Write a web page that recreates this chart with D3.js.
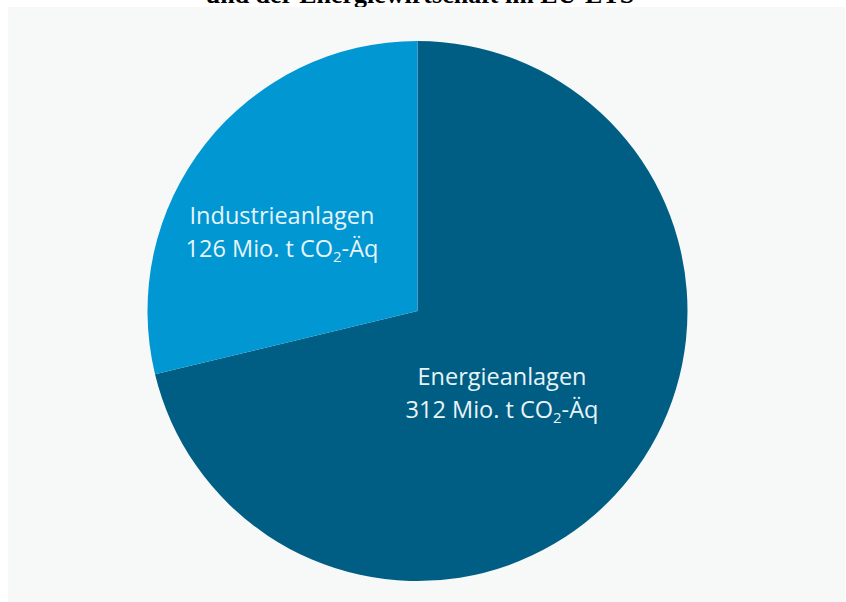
<!DOCTYPE html>
<html>
<head>
<meta charset="utf-8">
<script src="https://cdn.jsdelivr.net/npm/d3@7"></script>
<style>
  html, body { margin: 0; padding: 0; background: #ffffff; }
  svg { display: block; }
</style>
</head>
<body>
<div id="chart"></div>
<script>
// Emissions by sector in the EU ETS
const categories = ["Energieanlagen", "Industrieanlagen"];
const values = [312, 126];
const unitLabel = " Mio. t CO";
const colors = ["#005e84", "#0097d3"];

const W = 846, H = 602;
const cx = 417.5, cy = 311, R = 270;

const svg = d3.select("#chart").append("svg")
  .attr("width", W).attr("height", H);

// title (its upper part lies outside the top edge)
svg.append("text")
  .attr("x", 420).attr("y", 3)
  .attr("text-anchor", "middle")
  .attr("font-family", "'Liberation Serif', 'Times New Roman', serif")
  .attr("font-weight", "bold")
  .attr("font-size", 26)
  .attr("fill", "#000")
  .text("und der Energiewirtschaft im EU-ETS");

// panel background
svg.append("rect")
  .attr("x", 8).attr("y", 7).attr("width", W - 9).attr("height", H - 7)
  .attr("fill", "#f7f8f8");

const data = categories.map((c, i) => ({ name: c, value: values[i], color: colors[i] }));

const pie = d3.pie().value(d => d.value).sort(null);
const arc = d3.arc().innerRadius(0).outerRadius(R);

const g = svg.append("g").attr("transform", `translate(${cx},${cy})`);
const arcs = pie(data);

g.selectAll("path").data(arcs).enter().append("path")
  .attr("d", arc)
  .attr("fill", d => d.data.color);

// label anchors relative to the pie centre
const labelPos = { "Energieanlagen": [84.5, 74], "Industrieanlagen": [-135.5, -87] };

const labels = g.selectAll("g.label").data(arcs).enter().append("g")
  .attr("class", "label")
  .attr("transform", d => `translate(${labelPos[d.data.name][0]},${labelPos[d.data.name][1]})`)
  .attr("font-family", "'Open Sans', sans-serif")
  .attr("font-size", 23.5)
  .attr("fill", "#e8f4f8")
  .attr("text-anchor", "middle");

labels.append("text").attr("y", 0).text(d => d.data.name);

const line2 = labels.append("text").attr("y", 33);
line2.append("tspan").text(d => d.data.value + unitLabel);
line2.append("tspan").attr("font-size", 15).attr("dy", 5).text("2");
line2.append("tspan").attr("dy", -5).text("-Äq");
</script>
</body>
</html>
